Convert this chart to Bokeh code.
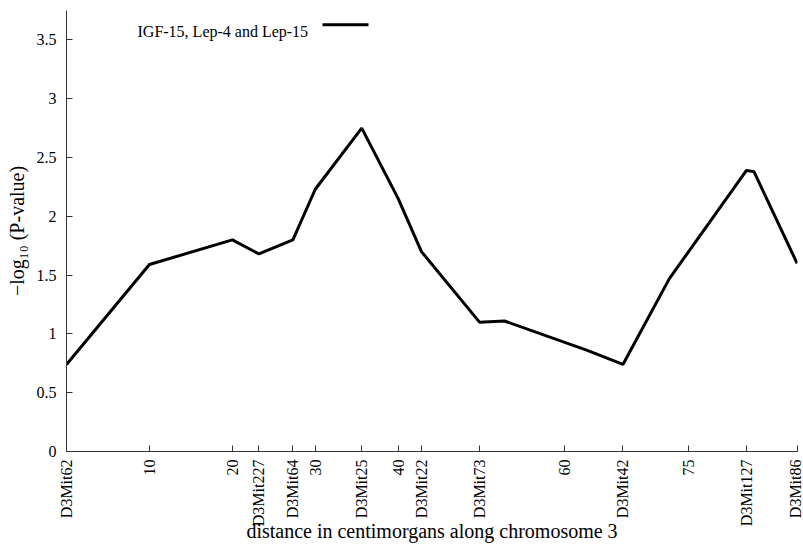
import math
from bokeh.plotting import figure
from bokeh.models import FixedTicker, Label, Arrow, Range1d, NumeralTickFormatter
from bokeh.embed import file_html
from bokeh.resources import INLINE

# ---- data ----
marker_names = ["D3Mit62", "D3Mit227", "D3Mit64", "D3Mit25", "D3Mit22",
                "D3Mit73", "D3Mit42", "D3Mit127", "D3Mit86"]
marker_cm = [0, 23.2, 27.3, 35.6, 42.8, 49.8, 67.1, 82.0, 88.1]
numeric_ticks = [10, 20, 30, 40, 60, 75]
y_ticks = [0, 0.5, 1, 1.5, 2, 2.5, 3, 3.5]

pos_cm = [0, 10, 20, 23.2, 27.3, 30, 35.6, 40, 42.8, 49.8, 52.8, 62.8,
          67.1, 72.7, 82.0, 82.9, 88.1]
neglog_p = [0.74, 1.59, 1.80, 1.68, 1.80, 2.23, 2.75, 2.15, 1.70, 1.10, 1.11,
            0.86, 0.74, 1.47, 2.39, 2.38, 1.60]

series_label = "IGF-15, Lep-4 and Lep-15"
x_title = "distance in centimorgans along chromosome 3"
y_title = "\u2212log\u2081\u2080 (P-value)"

FONT = "Liberation Serif"
AX = "#333333"

W, H = 803, 559
p = figure(width=W, height=H, output_backend="svg", toolbar_location=None,
           x_range=Range1d(0, 88.15), y_range=Range1d(0, 3.75),
           min_border_left=66, min_border_right=6, min_border_top=10,
           min_border_bottom=108)
p.outline_line_color = None
p.grid.visible = False
p.background_fill_color = "white"
p.border_fill_color = "white"

p.line(pos_cm, neglog_p, line_color="black", line_width=3)

# x axis
xa = p.xaxis[0]
xa.ticker = FixedTicker(ticks=sorted(marker_cm + numeric_ticks))
xa.major_label_overrides = {m: n for m, n in zip(marker_cm, marker_names)}
xa.major_label_orientation = math.pi / 2
xa.axis_label = x_title
xa.axis_label_standoff = -9

# y axis
ya = p.yaxis[0]
ya.ticker = FixedTicker(ticks=y_ticks)
ya.formatter = NumeralTickFormatter(format="0.[0]")
ya.axis_label = y_title
ya.axis_label_standoff = 6

for ax in (xa, ya):
    ax.axis_line_color = AX
    ax.major_tick_line_color = AX
    ax.major_tick_in = 6
    ax.major_tick_out = 0
    ax.minor_tick_line_color = None
    ax.major_label_text_font = FONT
    ax.major_label_text_font_size = "16px"
    ax.major_label_text_color = "black"
    ax.axis_label_text_font = FONT
    ax.axis_label_text_font_size = "20px"
    ax.axis_label_text_font_style = "normal"
    ax.axis_label_text_color = "black"
xa.major_label_standoff = 8
ya.major_label_standoff = 10

# legend (text left of line sample)
p.add_layout(Label(x=71, y=420.5, x_units="screen", y_units="screen",
                   text=series_label, text_font=FONT, text_font_size="16px",
                   text_align="left", text_baseline="alphabetic",
                   text_color="black"))
p.add_layout(Arrow(end=None, x_start=256, y_start=426.7, x_end=302, y_end=426.7,
                   start_units="screen", end_units="screen",
                   line_color="black", line_width=3))

open("out.html", "w").write(file_html(p, INLINE))
